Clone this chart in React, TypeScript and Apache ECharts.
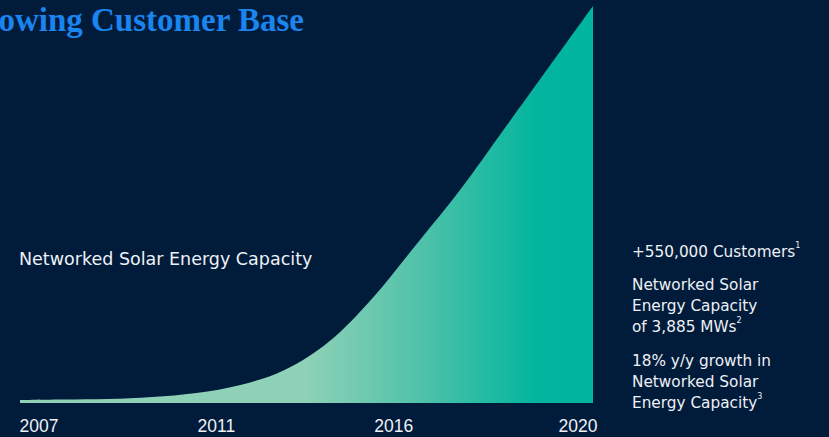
import React, { useEffect, useRef } from "react";
import * as echarts from "echarts";

const years = ["2007", "2008", "2009", "2010", "2011", "2012", "2013", "2014", "2015", "2016", "2017", "2018", "2019", "2020"];
const capacityMW = [29, 34, 39, 59, 98, 176, 323, 597, 1028, 1556, 2094, 2691, 3288, 3885];
const shownYears = ["2007", "2011", "2016", "2020"];

const titleText = "Growing Customer Base";
const seriesLabel = "Networked Solar Energy Capacity";
const note1 = "+550,000 Customers{s|1}";
const note2 = "Networked Solar\nEnergy Capacity\nof 3,885 MWs{s|2}";
const note3 = "18% y/y growth in\nNetworked Solar\nEnergy Capacity{s|3}";

const BG = "#011b3b";
const TXT = "#eef1f5";
const SANS = "'DejaVu Sans', sans-serif";
const AX = "'Liberation Sans', Arial, sans-serif";

export default function App() {
  const ref = useRef<HTMLDivElement>(null);
  useEffect(() => {
    if (!ref.current) return;
    const chart = echarts.init(ref.current, undefined, { renderer: "svg" });
    const labelKey: Record<string, string> = { "2007": "a", "2011": "b", "2016": "c", "2020": "d" };
    const noteRich = {
      s: { fontSize: 8, fontFamily: SANS, color: TXT, verticalAlign: "top", lineHeight: 21 },
    };
    const noteStyle = (text: string) => ({
      text,
      textVerticalAlign: "top",
      fill: TXT,
      fontSize: 15.3,
      fontFamily: SANS,
      lineHeight: 21,
      rich: noteRich,
    });
    chart.setOption({
      animation: false,
      backgroundColor: BG,
      grid: { left: 20, right: 236, top: 6, bottom: 34 },
      xAxis: {
        type: "category",
        data: years,
        boundaryGap: false,
        axisLine: { show: false },
        axisTick: { show: false },
        splitLine: { show: false },
        axisLabel: {
          interval: (_i: number, v: string) => shownYears.includes(v),
          margin: 14,
          color: TXT,
          fontSize: 17.5,
          fontFamily: AX,
          formatter: (v: string) => `{${labelKey[v]}|${v}}`,
          rich: {
            a: { fontSize: 17.5, color: TXT, fontFamily: AX, padding: [0, 0, 0, 38] },
            b: { fontSize: 17.5, color: TXT, fontFamily: AX, padding: [0, 0, 0, 40] },
            c: { fontSize: 17.5, color: TXT, fontFamily: AX, padding: [0, 46, 0, 0] },
            d: { fontSize: 17.5, color: TXT, fontFamily: AX, padding: [0, 30, 0, 0] },
          },
        },
      },
      yAxis: {
        type: "value",
        min: 0,
        max: 3885,
        show: false,
      },
      series: [
        {
          type: "line",
          data: capacityMW,
          smooth: 0.35,
          symbol: "none",
          lineStyle: { width: 0 },
          areaStyle: {
            opacity: 1,
            color: new echarts.graphic.LinearGradient(0, 0, 1, 0, [
              { offset: 0, color: "#8ed1b6" },
              { offset: 0.5, color: "#8ed1b6" },
              { offset: 0.7, color: "#4fc2a9" },
              { offset: 0.9, color: "#03b59e" },
              { offset: 1, color: "#00b49d" },
            ]),
          },
        },
      ],
      graphic: [
        {
          type: "text",
          x: 304,
          y: 3,
          style: {
            text: titleText,
            textAlign: "right",
            textVerticalAlign: "top",
            fill: "#1a84ef",
            font: "bold 33px 'Liberation Serif', serif",
          },
        },
        {
          type: "text",
          x: 19,
          y: 250,
          style: {
            text: seriesLabel,
            textVerticalAlign: "top",
            fill: TXT,
            font: `17.5px ${SANS}`,
          },
        },
        { type: "text", x: 632, y: 241, style: noteStyle(note1) },
        { type: "text", x: 632, y: 274, style: noteStyle(note2) },
        { type: "text", x: 632, y: 350, style: noteStyle(note3) },
      ],
    });
    return () => chart.dispose();
  }, []);
  return <div ref={ref} style={{ width: 829, height: 437, position: "fixed", left: 0, top: 0 }} />;
}
